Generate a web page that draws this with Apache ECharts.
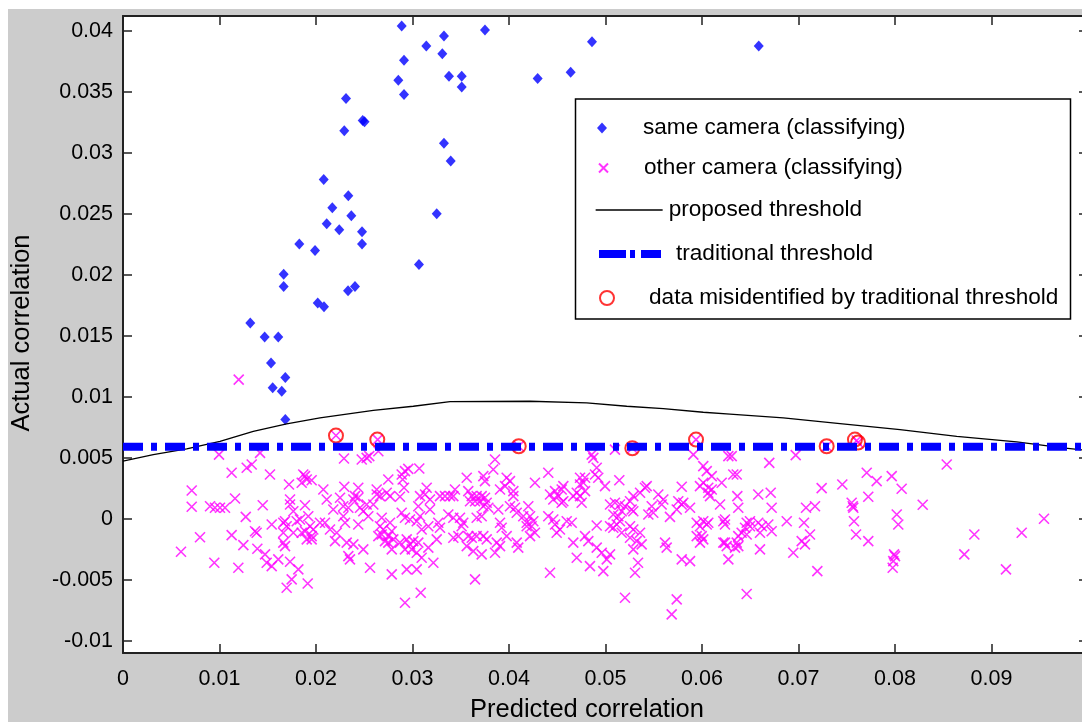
<!DOCTYPE html>
<html><head><meta charset="utf-8">
<script src="https://cdn.jsdelivr.net/npm/echarts@6/dist/echarts.min.js"></script>
<style>
html,body{margin:0;padding:0;background:#fff;width:1082px;height:722px;overflow:hidden;}
#chart{position:absolute;left:8px;top:9px;width:1074px;height:713px;}
</style></head><body><div id="chart"></div>
<script>
// ---------------- data ----------------
const seriesNames = ['same camera (classifying)', 'other camera (classifying)', 'proposed threshold', 'traditional threshold', 'data misidentified by traditional threshold'];
const xTicks = [0, 0.01, 0.02, 0.03, 0.04, 0.05, 0.06, 0.07, 0.08, 0.09];
const yTicks = [-0.01, -0.005, 0, 0.005, 0.01, 0.015, 0.02, 0.025, 0.03, 0.035, 0.04];
const xTitle = 'Predicted correlation';
const yTitle = 'Actual correlation';

const sameX = [0.02888,0.03326,0.03751,0.03143,0.03309,0.02912,0.03378,0.03510,0.02853,0.03510,0.02912,0.02311,0.02484,0.02503,0.02293,0.03326,0.03396,0.02080,0.02335,0.02169,0.02366,0.03251,0.02111,0.02241,0.02477,0.01827,0.01990,0.02477,0.03067,0.01665,0.01665,0.02332,0.02404,0.02018,0.02083,0.01319,0.01468,0.01609,0.01534,0.01682,0.01551,0.01645,0.01682,0.04297,0.04639,0.04860,0.06588];
const sameY = [0.04039,0.03957,0.04006,0.03875,0.03810,0.03758,0.03627,0.03627,0.03594,0.03539,0.03476,0.03444,0.03263,0.03253,0.03179,0.03078,0.02931,0.02780,0.02647,0.02549,0.02483,0.02500,0.02418,0.02369,0.02352,0.02252,0.02199,0.02252,0.02084,0.02003,0.01904,0.01869,0.01904,0.01768,0.01738,0.01605,0.01490,0.01490,0.01277,0.01157,0.01073,0.01045,0.00813,0.03607,0.03660,0.03908,0.03875];

const otherPoints = [
[0.00995,0.00526],[0.01420,0.00540],[0.01126,0.00377],[0.01282,0.00418],[0.01334,0.00445],[0.01523,0.00363],[0.00712,0.00232],[0.00712,0.00098],[0.00902,0.00103],[0.00953,0.00090],[0.01005,0.00090],[0.01057,0.00090],[0.01161,0.00166],[0.01448,0.00111],[0.01272,0.00016],[0.00798,-0.00151],[0.00601,-0.00270],[0.00946,-0.00360],[0.01126,-0.00134],[0.01247,-0.00216],[0.01368,-0.00102],[0.01385,-0.00115],[0.01541,-0.00047],[0.01392,-0.00246],[0.01472,-0.00292],[0.01489,-0.00360],[0.01541,-0.00388],[0.01195,-0.00401],[0.01609,-0.00333],[0.01731,-0.00352],[0.01817,-0.00415],[0.01748,-0.00497],[0.01696,-0.00565],[0.01914,-0.00530],[0.01720,0.00281],[0.01868,0.00363],[0.01904,0.00322],[0.01955,0.00316],[0.01852,0.00295],[0.02076,0.00240],[0.01731,0.00117],[0.01886,0.00111],[0.01765,0.00062],[0.01920,0.00021],[0.01661,-0.00033],[0.01696,-0.00061],[0.01800,-0.00020],[0.01834,-0.00006],[0.01661,-0.00115],[0.01765,-0.00115],[0.01852,-0.00115],[0.01886,-0.00102],[0.01938,-0.00061],[0.01955,-0.00142],[0.01972,-0.00088],[0.01661,-0.00196],[0.01679,-0.00224],[0.01904,-0.00169],[0.01955,-0.00169],[0.02093,-0.00033],[0.02111,0.00158],[0.02041,-0.00033],[0.01679,-0.00020],[0.01731,0.00158],[0.01886,0.00349],[0.01199,0.01140],
[0.02639,0.00649],[0.02207,0.00682],[0.04101,0.00594],[0.02290,0.00494],[0.02474,0.00486],[0.02525,0.00499],[0.02552,0.00513],[0.02646,0.00553],[0.02956,0.00409],[0.02922,0.00390],[0.03070,0.00412],[0.02888,0.00363],[0.02898,0.00322],[0.02749,0.00322],[0.02912,0.00254],[0.02293,0.00262],[0.02438,0.00254],[0.02404,0.00185],[0.02387,0.00158],[0.02438,0.00172],[0.02249,0.00172],[0.02629,0.00240],[0.02629,0.00199],[0.02663,0.00185],[0.02733,0.00213],[0.02767,0.00185],[0.02870,0.00180],[0.03147,0.00254],[0.03078,0.00185],[0.03130,0.00199],[0.03181,0.00158],[0.03285,0.00185],[0.03337,0.00185],[0.03389,0.00185],[0.03423,0.00185],[0.03440,0.00240],[0.03562,0.00336],[0.03734,0.00349],[0.03751,0.00308],[0.03837,0.00404],[0.03855,0.00486],[0.03976,0.00336],[0.04010,0.00308],[0.03907,0.00240],[0.03959,0.00267],[0.03578,0.00226],[0.03614,0.00185],[0.03665,0.00185],[0.03717,0.00185],[0.03751,0.00172],[0.03769,0.00131],[0.03596,0.00144],[0.03648,0.00144],[0.03699,0.00144],[0.04045,0.00226],[0.04045,0.00185],[0.02179,0.00076],[0.02283,0.00103],[0.02335,0.00090],[0.02145,-0.00088],[0.02215,-0.00115],[0.02197,-0.00183],[0.02283,0.00021],[0.02301,-0.00033],[0.02456,0.00090],[0.02490,0.00062],[0.02525,0.00117],[0.02542,0.00021],[0.02594,0.00117],[0.02438,-0.00047],[0.02681,0.00008],[0.02663,-0.00061],[0.02697,-0.00088],[0.02767,-0.00033],[0.02785,-0.00102],[0.02749,-0.00142],[0.02801,-0.00169],[0.02888,0.00049],[0.02922,0.00008],[0.02974,-0.00006],[0.03044,-0.00020],[0.03078,0.00021],[0.03060,0.00103],[0.03181,0.00076],[0.03267,-0.00033],[0.03285,-0.00074],[0.03164,-0.00061],[0.03095,-0.00088],[0.03371,0.00035],[0.03423,0.00008],[0.03492,0.00008],[0.03526,-0.00033],[0.03509,-0.00061],[0.03665,0.00008],[0.03717,0.00021],[0.03734,0.00103],[0.03786,0.00090],[0.03889,0.00076],[0.03907,-0.00033],[0.03924,-0.00074],[0.04010,0.00103],[0.04062,0.00090],[0.04080,0.00049],[0.04148,0.00021],[0.04183,-0.00033],[0.04200,0.00103],[0.02318,-0.00196],[0.02387,-0.00210],[0.02335,-0.00306],[0.02352,-0.00333],[0.02490,-0.00251],[0.02560,-0.00401],[0.02646,-0.00142],[0.02681,-0.00129],[0.02715,-0.00183],[0.02749,-0.00196],[0.02785,-0.00251],[0.02870,-0.00196],[0.02940,-0.00169],[0.02974,-0.00210],[0.03008,-0.00183],[0.03060,-0.00196],[0.02922,-0.00251],[0.02992,-0.00251],[0.03044,-0.00278],[0.02940,-0.00415],[0.03044,-0.00415],[0.02785,-0.00456],[0.03095,-0.00319],[0.03216,-0.00360],[0.03164,-0.00237],[0.03251,-0.00169],[0.02922,-0.00688],[0.03085,-0.00606],[0.03423,-0.00156],[0.03475,-0.00142],[0.03578,-0.00142],[0.03614,-0.00156],[0.03665,-0.00142],[0.03734,-0.00142],[0.03769,-0.00169],[0.03630,-0.00265],[0.03717,-0.00292],[0.03562,-0.00224],[0.03648,-0.00497],[0.03873,-0.00196],[0.03907,-0.00224],[0.03855,-0.00278],[0.03976,-0.00142],[0.04080,-0.00196],[0.04096,-0.00237],[0.04183,-0.00061],[0.04218,-0.00142],
[0.05278,0.00578],[0.05938,0.00649],[0.05098,0.00567],[0.04857,0.00526],[0.04874,0.00499],[0.05910,0.00526],[0.06273,0.00513],[0.04909,0.00418],[0.04891,0.00363],[0.04925,0.00336],[0.04407,0.00377],[0.04269,0.00295],[0.04736,0.00336],[0.04788,0.00336],[0.04770,0.00295],[0.04736,0.00281],[0.04995,0.00267],[0.05143,0.00316],[0.05427,0.00267],[0.05790,0.00262],[0.06013,0.00431],[0.06049,0.00390],[0.06101,0.00349],[0.06013,0.00295],[0.06065,0.00254],[0.06204,0.00295],[0.04477,0.00226],[0.04546,0.00240],[0.04563,0.00267],[0.04511,0.00185],[0.04546,0.00131],[0.04563,0.00144],[0.04425,0.00199],[0.04459,0.00158],[0.04702,0.00213],[0.04736,0.00185],[0.04753,0.00131],[0.04788,0.00226],[0.04666,0.00185],[0.05047,0.00117],[0.05098,0.00131],[0.05150,0.00117],[0.05202,0.00103],[0.05254,0.00144],[0.05288,0.00185],[0.05358,0.00213],[0.05409,0.00254],[0.05271,0.00076],[0.05288,0.00062],[0.05081,0.00035],[0.05133,0.00021],[0.05168,0.00062],[0.05047,-0.00061],[0.05081,-0.00074],[0.05116,-0.00047],[0.05150,-0.00020],[0.05547,0.00199],[0.05599,0.00158],[0.05582,0.00117],[0.05479,0.00103],[0.05444,0.00035],[0.05495,0.00049],[0.05668,0.00016],[0.05754,0.00144],[0.05806,0.00131],[0.05876,0.00090],[0.05790,0.00117],[0.05738,0.00076],[0.05979,0.00267],[0.06065,0.00213],[0.06083,0.00185],[0.06101,0.00240],[0.06187,0.00117],[0.05945,-0.00033],[0.05979,-0.00061],[0.06013,-0.00020],[0.06065,-0.00033],[0.05945,-0.00142],[0.06013,-0.00169],[0.05979,-0.00196],[0.06221,-0.00020],[0.06238,-0.00047],[0.06221,-0.00196],[0.06256,-0.00224],[0.04218,0.00021],[0.04252,-0.00020],[0.04235,-0.00061],[0.04269,-0.00115],[0.04407,0.00021],[0.04459,-0.00006],[0.04477,-0.00047],[0.04494,-0.00115],[0.04528,-0.00088],[0.04598,-0.00020],[0.04650,-0.00033],[0.04909,-0.00055],[0.04666,-0.00196],[0.04702,-0.00319],[0.04839,-0.00388],[0.04788,-0.00142],[0.04822,-0.00183],[0.04909,-0.00237],[0.04961,-0.00278],[0.05013,-0.00333],[0.05047,-0.00292],[0.04977,-0.00429],[0.05254,-0.00061],[0.05288,-0.00088],[0.05358,-0.00115],[0.05254,-0.00156],[0.05323,-0.00183],[0.05375,-0.00210],[0.05288,-0.00251],[0.05168,-0.00115],[0.05337,-0.00360],[0.05306,-0.00442],[0.05617,-0.00196],[0.05634,-0.00237],[0.05790,-0.00333],[0.05876,-0.00347],[0.04425,-0.00442],[0.05202,-0.00647],[0.05738,-0.00661],[0.05686,-0.00784],
[0.07292,0.00594],[0.07603,0.00641],[0.07617,0.00625],[0.06308,0.00513],[0.06697,0.00458],[0.06971,0.00521],[0.08536,0.00445],[0.06324,0.00363],[0.06360,0.00363],[0.07707,0.00377],[0.07810,0.00308],[0.07966,0.00349],[0.08069,0.00246],[0.07454,0.00281],[0.07240,0.00251],[0.07723,0.00180],[0.08287,0.00115],[0.06366,0.00185],[0.06376,0.00090],[0.06583,0.00199],[0.06712,0.00213],[0.06722,0.00090],[0.07078,0.00090],[0.07171,0.00103],[0.07551,0.00131],[0.07568,0.00090],[0.07575,-0.00020],[0.08018,0.00035],[0.08034,-0.00047],[0.07596,-0.00129],[0.07723,-0.00183],[0.06878,-0.00020],[0.07057,-0.00033],[0.07119,-0.00129],[0.07033,-0.00183],[0.07067,-0.00210],[0.06463,-0.00033],[0.06446,-0.00074],[0.06497,-0.00061],[0.06411,-0.00115],[0.06583,-0.00033],[0.06619,-0.00061],[0.06687,-0.00047],[0.06722,-0.00102],[0.06601,-0.00115],[0.06360,-0.00196],[0.06342,-0.00237],[0.06601,-0.00251],[0.06946,-0.00278],[0.07990,-0.00292],[0.08822,-0.00129],[0.08718,-0.00292],[0.09313,-0.00115],[0.09544,0.00000],[0.09150,-0.00415],[0.06463,-0.00617],[0.07195,-0.00429],[0.07976,-0.00401],[0.07982,-0.00347],[0.08000,-0.00306],[0.07562,0.00103],[0.06238,-0.00006],[0.06238,-0.00196],[0.06376,-0.00224],[0.06273,-0.00333],[0.06497,-0.00020],[0.06463,-0.00129],[0.06376,-0.00142],[0.06049,-0.00047],[0.05997,-0.00142]
];

const propX = [0,0.00314,0.0066,0.01005,0.0135,0.01696,0.02041,0.02594,0.03008,0.03389,0.04218,0.04805,0.0522,0.05599,0.06013,0.0629,0.06843,0.0743,0.08052,0.0864,0.09261,0.09741,0.1];
const propY = [0.00472,0.00526,0.00573,0.00635,0.00717,0.00778,0.00827,0.00889,0.00922,0.0096,0.00963,0.0095,0.00922,0.00903,0.00873,0.00858,0.00827,0.0078,0.00731,0.00676,0.0063,0.00581,0.0056];

const tradX = [0, 0.1];
const tradY = [0.0059, 0.0059];

const misX = [0.02207,0.02635,0.04101,0.05278,0.05938,0.07292,0.07585,0.07617];
const misY = [0.00682,0.00649,0.00594,0.00578,0.00649,0.00594,0.00649,0.00625];

// ---------------- chart ----------------
const FONT = "'Liberation Sans', Arial, sans-serif";
const zip = (a, b) => a.map((v, i) => [v, b[i]]);
const fmt = v => String(parseFloat(Number(v).toFixed(4)));

const chart = echarts.init(document.getElementById('chart'), null, {renderer: 'canvas'});

const tickStyle = {show: true, inside: true, length: 9, lineStyle: {color: '#222', width: 1.5}};
const lineAx = {show: true, onZero: false, lineStyle: {color: '#222', width: 2}};

function legendItem(name, leftPage, centerPage, w, h, pad, extra) {
  return Object.assign({
    data: [name], orient: 'horizontal', left: leftPage - 8, top: centerPage - 9 - 12,
    itemWidth: w, itemHeight: h, padding: 0, selectedMode: false, z: 20,
    textStyle: {fontFamily: FONT, fontSize: 22.6, color: '#000', lineHeight: 24, padding: [0, 0, 0, pad]}
  }, extra || {});
}

const noSymbol = {itemStyle: {color: 'rgba(0,0,0,0)', borderWidth: 0, opacity: 0}};

const option = {
  animation: false,
  backgroundColor: '#cccccc',
  grid: {left: 115, top: 7, right: -6, bottom: 69, show: true, backgroundColor: '#fff', borderWidth: 0, outerBoundsMode: 'none', containLabel: false},
  xAxis: [
    {type: 'value', min: 0, max: 0.1, interval: 0.01, position: 'bottom',
     axisLine: lineAx, axisTick: tickStyle, splitLine: {show: false},
     axisLabel: {customValues: xTicks, formatter: fmt, margin: 15, fontFamily: FONT, fontSize: 21.5, color: '#000'}},
    {type: 'value', min: 0, max: 0.1, interval: 0.01, position: 'top',
     axisLine: lineAx, axisTick: tickStyle, splitLine: {show: false}, axisLabel: {show: false}}
  ],
  yAxis: [
    {type: 'value', min: -0.011, max: 0.0412, position: 'left',
     axisLine: lineAx, axisTick: Object.assign({customValues: yTicks}, tickStyle), splitLine: {show: false},
     axisLabel: {customValues: yTicks, formatter: fmt, margin: 10, fontFamily: FONT, fontSize: 21.5, color: '#000'}},
    {type: 'value', min: -0.011, max: 0.0412, position: 'right',
     axisLine: lineAx, axisTick: Object.assign({customValues: yTicks}, tickStyle), splitLine: {show: false}, axisLabel: {show: false}}
  ],
  legend: [
    legendItem(seriesNames[0], 597, 128, 10, 11, 31),
    legendItem(seriesNames[1], 598, 168, 9, 9, 31),
    legendItem(seriesNames[2], 595, 210, 67, 10, 1, Object.assign({lineStyle: {width: 1.3, color: '#000', type: 'solid'}}, noSymbol)),
    legendItem(seriesNames[3], 595, 254, 62, 10, 10, Object.assign({lineStyle: {width: 8, color: '#0000ff', type: [27, 4, 5, 6], cap: 'butt'}}, noSymbol)),
    legendItem(seriesNames[4], 599, 298, 14, 14, 30)
  ],
  graphic: [
    {type: 'rect', shape: {x: 567.5, y: 90, width: 495, height: 220}, style: {fill: '#fff', stroke: '#000', lineWidth: 1.5}, z: 10, silent: true},
    {type: 'text', x: 579, y: 701, z: 10, silent: true,
     style: {text: xTitle, fontFamily: FONT, fontSize: 25.5, fill: '#000', align: 'center', verticalAlign: 'middle'}},
    {type: 'text', x: 14, y: 324, rotation: Math.PI / 2, z: 10, silent: true,
     style: {text: yTitle, fontFamily: FONT, fontSize: 25.5, fill: '#000', align: 'center', verticalAlign: 'middle'}}
  ],
  series: [
    {name: seriesNames[0], type: 'scatter', data: zip(sameX, sameY), symbol: 'diamond', symbolSize: [10, 11],
     itemStyle: {color: '#0000ff'}, silent: true, emphasis: {disabled: true}},
    {name: seriesNames[1], type: 'scatter', data: otherPoints, symbol: 'path://M0,0L10,10M0,10L10,0', symbolSize: 10,
     itemStyle: {color: '#ff00ff', borderColor: '#ff00ff', borderWidth: 1.6}, silent: true, emphasis: {disabled: true}},
    {name: seriesNames[2], type: 'line', data: zip(propX, propY), symbol: 'none', smooth: false,
     lineStyle: {color: '#000', width: 1.3}, itemStyle: {color: '#000'}, silent: true, emphasis: {disabled: true}},
    {name: seriesNames[3], type: 'line', data: zip(tradX, tradY), symbol: 'none',
     lineStyle: {color: '#0000ff', width: 8, type: [20, 8, 6, 8], cap: 'butt'}, itemStyle: {color: '#0000ff'}, silent: true, emphasis: {disabled: true}},
    {name: seriesNames[4], type: 'scatter', data: zip(misX, misY), symbol: 'circle', symbolSize: 14,
     itemStyle: {color: 'rgba(0,0,0,0)', borderColor: '#ff0000', borderWidth: 2}, silent: true, emphasis: {disabled: true}}
  ]
};
chart.setOption(option);
</script></body></html>
